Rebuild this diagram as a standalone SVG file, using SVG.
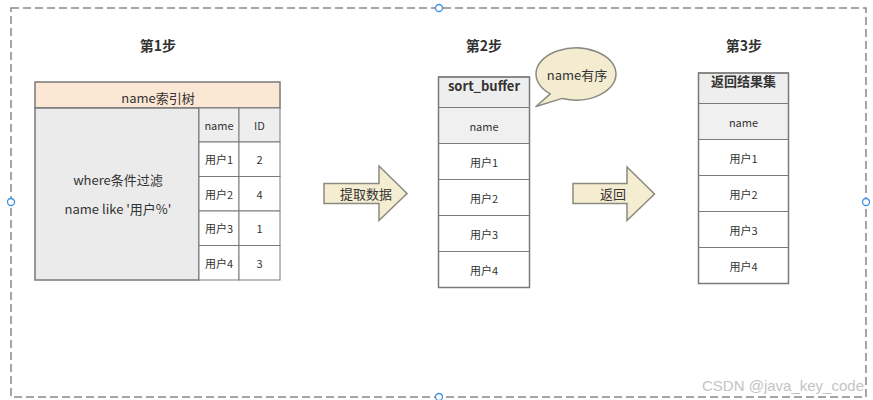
<svg xmlns="http://www.w3.org/2000/svg" width="873" height="400" viewBox="0 0 873 400">
<style>
text{font-family:"Noto Sans CJK SC","Microsoft YaHei",sans-serif;fill:#333;text-anchor:middle;dominant-baseline:central}
.step{font-size:14px;font-weight:bold}
.sm{font-size:11px}
.md{font-size:13px}
.cell{fill:#fff;stroke:#7a7a7a;stroke-width:1}
.gcell{fill:#eeeeee;stroke:#7a7a7a;stroke-width:1}
.outer{fill:none;stroke:#7a7a7a;stroke-width:1.5}
.arrow{fill:#f5edd2;stroke:#8a8a80;stroke-width:1.5}
.handle{fill:#fff;stroke:#3d8fe0;stroke-width:1.3}
</style>
<rect width="873" height="400" fill="#fff"/>
<g id="frame">
<rect x="11" y="8" width="855" height="389" fill="none" stroke="#888" stroke-width="1.5" stroke-dasharray="8 4"/>
<circle class="handle" cx="439" cy="8" r="3.5"/>
<circle class="handle" cx="11" cy="202" r="3.5"/>
<circle class="handle" cx="866" cy="202" r="3.5"/>
<circle class="handle" cx="439" cy="397" r="3.5"/>
</g>
<g id="labels">
<text class="step" x="158" y="45">第1步</text>
<text class="step" x="484" y="45">第2步</text>
<text class="step" x="744" y="45">第3步</text>
</g>
<g id="step1">
<rect x="35" y="82" width="245" height="26" fill="#fce6d4" stroke="#7a7a7a" stroke-width="1.5"/>
<text class="md" x="158" y="97">name索引树</text>
<rect x="35" y="108" width="164" height="172" fill="#ebebeb" stroke="#7a7a7a" stroke-width="1.5"/>
<text class="md" x="118" y="179">where条件过滤</text>
<text class="md" x="118" y="208">name like '用户%'</text>
<rect class="gcell" x="199" y="108" width="40" height="34"/>
<rect class="gcell" x="239" y="108" width="41" height="34"/>
<text class="sm" x="219" y="125">name</text>
<text class="sm" x="259.5" y="125">ID</text>
<rect class="cell" x="199" y="142" width="40" height="34.5"/>
<rect class="cell" x="239" y="142" width="41" height="34.5"/>
<rect class="cell" x="199" y="176.5" width="40" height="34.5"/>
<rect class="cell" x="239" y="176.5" width="41" height="34.5"/>
<rect class="cell" x="199" y="211" width="40" height="34.5"/>
<rect class="cell" x="239" y="211" width="41" height="34.5"/>
<rect class="cell" x="199" y="245.5" width="40" height="34.5"/>
<rect class="cell" x="239" y="245.5" width="41" height="34.5"/>
<text class="sm" x="219" y="159">用户1</text><text class="sm" x="259.5" y="159">2</text>
<text class="sm" x="219" y="194">用户2</text><text class="sm" x="259.5" y="194">4</text>
<text class="sm" x="219" y="228">用户3</text><text class="sm" x="259.5" y="228">1</text>
<text class="sm" x="219" y="263">用户4</text><text class="sm" x="259.5" y="263">3</text>
</g>
<g id="step2">
<rect class="gcell" x="438.5" y="77" width="91" height="30.5"/>
<text class="md" x="484" y="85" font-weight="bold">sort_buffer</text>
<rect x="438.5" y="107.5" width="91" height="36" fill="#f0f0f0" stroke="#7a7a7a"/>
<text class="sm" x="484" y="125.5">name</text>
<rect class="cell" x="438.5" y="143.5" width="91" height="36"/>
<text class="sm" x="484" y="161.5">用户1</text>
<rect class="cell" x="438.5" y="179.5" width="91" height="36"/>
<text class="sm" x="484" y="197.5">用户2</text>
<rect class="cell" x="438.5" y="215.5" width="91" height="36"/>
<text class="sm" x="484" y="233.5">用户3</text>
<rect class="cell" x="438.5" y="251.5" width="91" height="36"/>
<text class="sm" x="484" y="269.5">用户4</text>
<rect class="outer" x="438.5" y="77" width="91" height="210.5"/>
</g>
<g id="bubble">
<path d="M550.3,93.9 A40,26 0 1,1 562.3,98.4 L536,106.5 Z" fill="#f3ecd0" stroke="#8a8a80" stroke-width="1.5" stroke-linejoin="round"/>
<text class="md" x="577" y="74">name有序</text>
</g>
<g id="step3">
<rect class="gcell" x="698.5" y="73" width="90" height="30.5"/>
<text class="md" x="743.5" y="80.5" font-weight="bold">返回结果集</text>
<rect x="698.5" y="103.5" width="90" height="36" fill="#f0f0f0" stroke="#7a7a7a"/>
<text class="sm" x="743.5" y="121.5">name</text>
<rect class="cell" x="698.5" y="139.5" width="90" height="36"/>
<text class="sm" x="743.5" y="157.5">用户1</text>
<rect class="cell" x="698.5" y="175.5" width="90" height="36"/>
<text class="sm" x="743.5" y="193.5">用户2</text>
<rect class="cell" x="698.5" y="211.5" width="90" height="36"/>
<text class="sm" x="743.5" y="229.5">用户3</text>
<rect class="cell" x="698.5" y="247.5" width="90" height="36"/>
<text class="sm" x="743.5" y="265.5">用户4</text>
<rect class="outer" x="698.5" y="73" width="90" height="210.5"/>
</g>
<g id="connectors">
<g id="arrow1">
<path class="arrow" d="M324,183.5 L379,183.5 L379,166 L407,193.5 L379,220.5 L379,203.5 L324,203.5 Z"/>
<text class="md" x="366" y="193">提取数据</text>
</g>
<g id="arrow2">
<path class="arrow" d="M573,183.5 L627,183.5 L627,167 L654.5,194 L627,220.5 L627,203.5 L573,203.5 Z"/>
<text class="md" x="613" y="193">返回</text>
</g>
</g>
<text x="783" y="385" style="fill:#c4c4c4;font-family:'Liberation Sans',Arial,sans-serif;font-size:15px">CSDN @java_key_code</text>
</svg>
